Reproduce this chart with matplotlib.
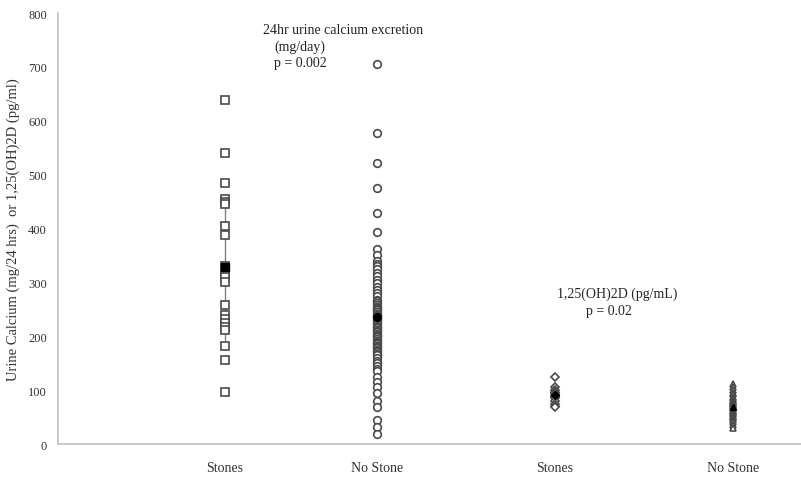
import matplotlib.pyplot as plt
import numpy as np

plt.rcParams['font.family'] = ['Liberation Serif', 'DejaVu Serif']

# values
ca_stones = [638, 540, 485, 455, 450, 445, 405, 388, 330, 325, 320, 310, 300,
             258, 240, 232, 225, 218, 212, 182, 156, 96]
ca_nostone = [705, 578, 522, 475, 428, 393, 362, 350, 340, 335, 330, 325, 318,
              312, 305, 298, 292, 285, 280, 275, 268, 265, 262, 258, 255, 252,
              250, 248, 245, 242, 240, 238, 235, 232, 230, 228, 225, 222, 220,
              218, 215, 212, 210, 208, 205, 202, 200, 198, 195, 192, 190, 188,
              185, 182, 180, 178, 175, 172, 170, 168, 165, 160, 155, 150, 145,
              140, 135, 125, 115, 105, 95, 80, 68, 45, 32, 18]
d_stones = [125, 105, 100, 97, 95, 93, 90, 88, 85, 80, 75, 70, 68]
d_nostone = [112, 105, 100, 95, 92, 88, 85, 82, 80, 78, 76, 74, 72, 70, 68, 66,
             64, 62, 60, 58, 55, 52, 50, 48, 45, 40, 35, 30]

groups = [ca_stones, ca_nostone, d_stones, d_nostone]
labels = ['Stones', 'No Stone', 'Stones', 'No Stone']
markers = ['s', 'o', 'D', '^']
sizes = [5.5, 5.5, 4.5, 5]
pos = [1.0, 1.85, 2.85, 3.85]

fig = plt.figure(figsize=(8.01, 4.81), dpi=100)
ax = fig.add_axes([0.0724, 0.0748, 0.927, 0.896])

for x, vals, m, s in zip(pos, groups, markers, sizes):
    vals = np.array(vals)
    mean, sd = vals.mean(), vals.std(ddof=1)
    ax.plot([x, x], [mean - sd, mean + sd], color='#808080', lw=1, zorder=1)
    ax.plot(np.full(len(vals), x), vals, ls='none', marker=m, ms=s,
            mfc='white', mec='#4a4a4a', mew=1.2, zorder=2)
    ax.plot([x], [mean], ls='none', marker=m, ms=s, mfc='black',
            mec='black', zorder=3)

ax.set_xlim(0.063, 4.227)
ax.set_ylim(0, 800)
ax.set_yticks(range(0, 801, 100))
ax.set_xticks(pos)
ax.set_xticklabels(labels, fontsize=10)
ax.tick_params(length=0, labelsize=9, colors='#333333')
ax.tick_params(axis='x', pad=12, labelsize=10)
ax.tick_params(axis='y', pad=8)

for side in ['top', 'right']:
    ax.spines[side].set_visible(False)
for side in ['left', 'bottom']:
    ax.spines[side].set_color('#bfbfbf')
    ax.spines[side].set_linewidth(1.2)

ax.set_ylabel('Urine Calcium (mg/24 hrs)  or 1,25(OH)2D (pg/ml)', fontsize=10.5,
              color='#333333', labelpad=6)

ax.text(1.66, 770, '24hr urine calcium excretion', ha='center', va='center',
        fontsize=10, color='#222222')
ax.text(1.42, 738, '(mg/day)', ha='center', va='center', fontsize=10,
        color='#222222')
ax.text(1.42, 709, 'p = 0.002', ha='center', va='center', fontsize=10,
        color='#222222')
ax.text(3.2, 279, '1,25(OH)2D (pg/mL)', ha='center', va='center', fontsize=10,
        color='#222222')
ax.text(3.15, 247, 'p = 0.02', ha='center', va='center', fontsize=10,
        color='#222222')

fig.savefig('out.png', dpi=100)
